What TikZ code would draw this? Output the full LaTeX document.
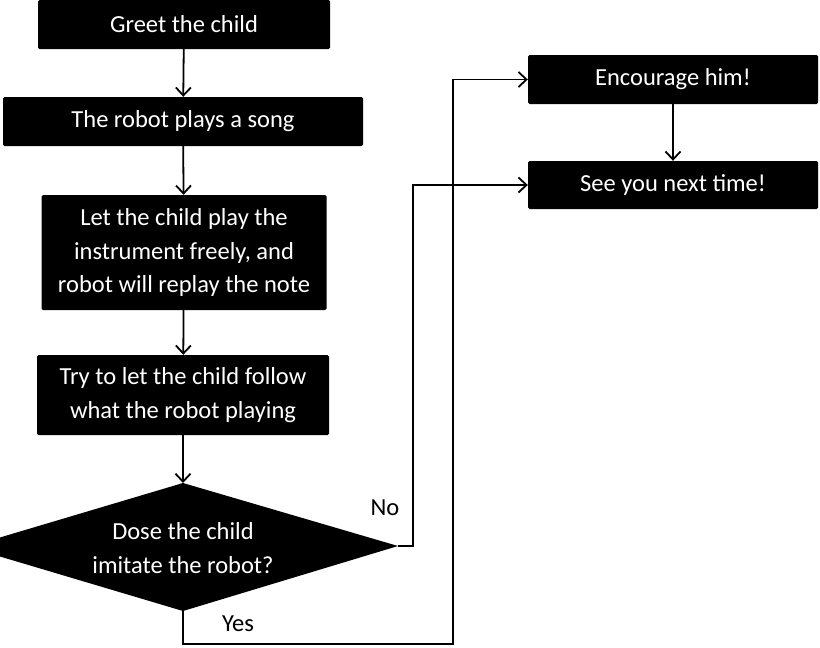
\documentclass[tikz,border=0pt]{standalone}
\usepackage{fontspec}
\setmainfont{Carlito}
\usetikzlibrary{arrows.meta}
\begin{document}
\begin{tikzpicture}[x=1pt,y=-1pt,
  box/.style={rectangle,fill=black,text=white,rounded corners=1.5pt,inner sep=0pt,align=center,
    font=\fontsize{24.5}{33.5}\selectfont},
  qtext/.style={text=white,inner sep=0pt,align=center,font=\fontsize{24.5}{33.5}\selectfont},
  lab/.style={font=\fontsize{24.5}{28}\selectfont,inner sep=0pt},
  conn/.style={draw=black,line width=1.8pt,-{Straight Barb[length=8pt,width=15pt,line width=1.8pt]}},
  plain/.style={draw=black,line width=1.8pt}]
\useasboundingbox (0,0) rectangle (820,648);
\node[box,minimum width=292pt,minimum height=49pt] (greet) at (184,24.5) {Greet the child};
\node[box,minimum width=360pt,minimum height=49pt] (song) at (183,121.5) {The robot plays a song};
\node[box,minimum width=285pt,minimum height=115pt] (play) at (184,252.5) {Let the child play the\\instrument freely, and\\robot will replay the note};
\node[box,minimum width=292pt,minimum height=80pt] (try) at (183,395) {Try to let the child follow\\what the robot playing};
\coordinate (qn) at (183,483);
\coordinate (qe) at (398,546);
\coordinate (qs) at (183,611);
\coordinate (qw) at (-32,547);
\fill[black] (qn) -- (qe) -- (qs) -- (qw) -- cycle;
\node[qtext] (q) at (183,548) {Dose the child\\imitate the robot?};
\node[box,minimum width=290pt,minimum height=49pt] (enc) at (673,79.5) {Encourage him!};
\node[box,minimum width=290pt,minimum height=48pt] (see) at (673,185) {See you next time!};
\coordinate (nocorner) at (413,546);
\coordinate (yescorner) at (183,644);
\coordinate (yesup) at (453,644);
\node[lab] (no) at (385,508) {No};
\node[lab] (yes) at (238,624) {Yes};
\draw[conn] (greet) -- (song);
\draw[conn] (song) -- (play);
\draw[conn] (play) -- (try);
\draw[conn] (try) -- (qn);
\draw[conn] (enc) -- (see);
\draw[conn] (qe) -- (nocorner) |- (see.west);
\draw[conn] (qs) -- (yescorner) -- (yesup) |- (enc.west);
\end{tikzpicture}
\end{document}
